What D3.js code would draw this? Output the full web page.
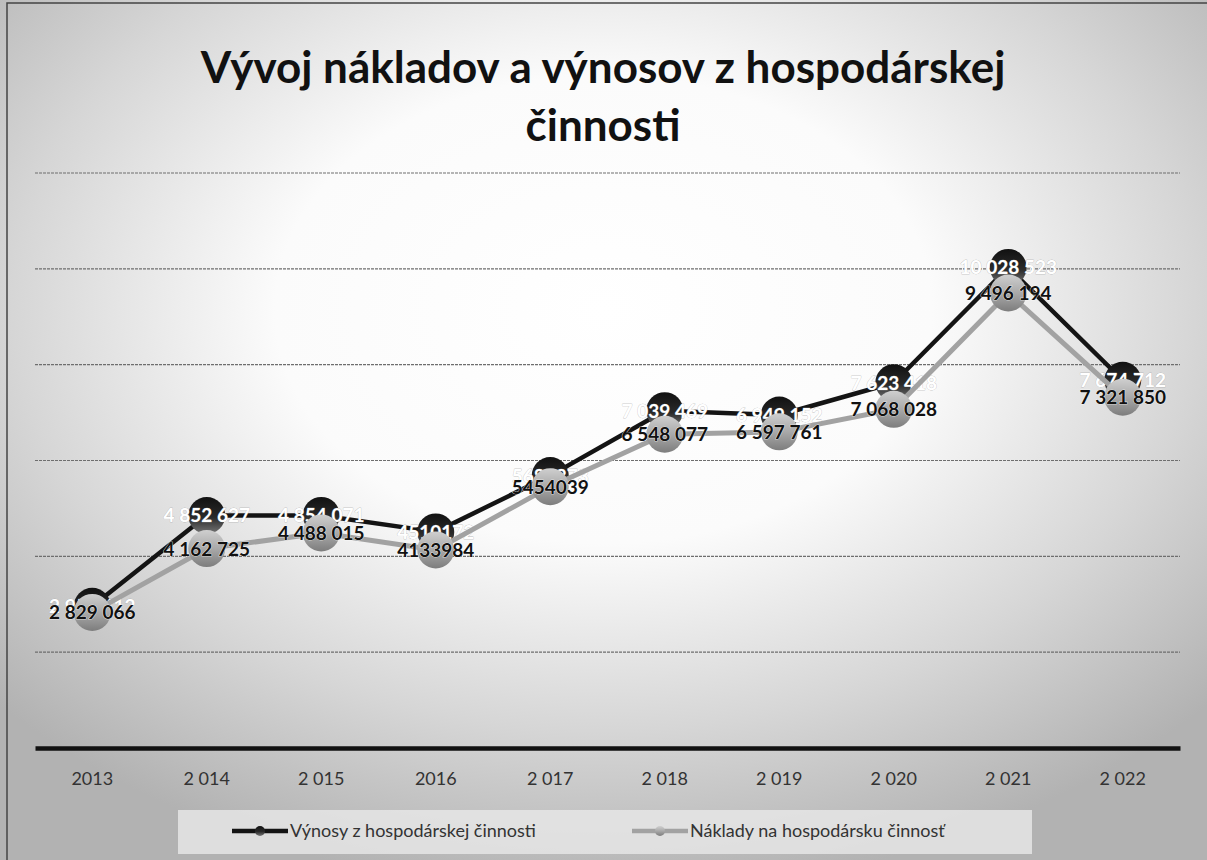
<!DOCTYPE html>
<html>
<head>
<meta charset="utf-8">
<script src="https://cdn.jsdelivr.net/npm/d3@7"></script>
<style>
  body { margin: 0; background: #fff; }
  svg { display: block; }
</style>
</head>
<body>
<div id="chart"></div>
<script>
// --- data ---
var roky = ["2013", "2 014", "2 015", "2016", "2 017", "2 018", "2 019", "2 020", "2 021", "2 022"];
var vynosy = [2956412, 4852627, 4854071, 4510172, 5684873, 7039469, 6949152, 7623418, 10028523, 7674712];
var naklady = [2829066, 4162725, 4488015, 4133984, 5454039, 6548077, 6597761, 7068028, 9496194, 7321850];
var yTicks = [0, 2000000, 4000000, 6000000, 8000000, 10000000, 12000000];
var plainLabels = [3, 4]; // labels printed without thousand spaces

var W = 1207, H = 860;
var svg = d3.select("#chart").append("svg").attr("width", W).attr("height", H);
var defs = svg.append("defs");

// scanned-page look: white in the middle, grey towards the edges
var bg = defs.append("radialGradient").attr("id", "bg")
  .attr("cx", "50%").attr("cy", "36%").attr("r", "68%");
bg.append("stop").attr("offset", "0%").attr("stop-color", "#ffffff");
bg.append("stop").attr("offset", "40%").attr("stop-color", "#fbfbfb");
bg.append("stop").attr("offset", "72%").attr("stop-color", "#d6d6d6");
bg.append("stop").attr("offset", "100%").attr("stop-color", "#b2b2b2");

var gBlack = defs.append("linearGradient").attr("id", "mBlack").attr("x1", 0).attr("y1", 0).attr("x2", 0).attr("y2", 1);
gBlack.append("stop").attr("offset", "0%").attr("stop-color", "#111");
gBlack.append("stop").attr("offset", "55%").attr("stop-color", "#2a2a2a");
gBlack.append("stop").attr("offset", "100%").attr("stop-color", "#777");
var gGrey = defs.append("linearGradient").attr("id", "mGrey").attr("x1", 0).attr("y1", 0).attr("x2", 0).attr("y2", 1);
gGrey.append("stop").attr("offset", "0%").attr("stop-color", "#cfcfcf");
gGrey.append("stop").attr("offset", "50%").attr("stop-color", "#a9a9a9");
gGrey.append("stop").attr("offset", "100%").attr("stop-color", "#7d7d7d");

svg.append("rect").attr("x", 0).attr("y", 0).attr("width", W).attr("height", H).attr("fill", "url(#bg)");
svg.append("path").attr("d", "M7," + H + "V3H" + W).attr("fill", "none").attr("stroke", "#444").attr("stroke-width", 1.5);

// title
var title = svg.append("text").attr("x", 603).attr("text-anchor", "middle")
  .attr("font-family", "Lato, 'Open Sans', sans-serif").attr("font-weight", "bold")
  .attr("font-size", 44).attr("fill", "#111");
title.append("tspan").attr("x", 603).attr("y", 83).text("Vývoj nákladov a výnosov z hospodárskej");
title.append("tspan").attr("x", 603).attr("y", 141).text("činnosti");

var x = d3.scaleBand().domain(roky).range([35, 1180]);
var y = d3.scaleLinear().domain([0, 12000000]).range([748, 173]);
var cx = function(d, i) { return x(roky[i]) + x.bandwidth() / 2; };

// gridlines
svg.append("g").selectAll("line").data(yTicks.slice(1)).enter().append("line")
  .attr("x1", 35).attr("x2", 1180)
  .attr("y1", function(d) { return y(d); }).attr("y2", function(d) { return y(d); })
  .attr("stroke", "#6e6e6e").attr("stroke-width", 1.2).attr("stroke-dasharray", "3,1");

// x axis
var xAxis = svg.append("g").attr("transform", "translate(0," + y(0) + ")")
  .call(d3.axisBottom(x).tickSize(0).tickPadding(24));
xAxis.select(".domain").attr("stroke", "#111").attr("stroke-width", 4.5);
xAxis.selectAll("text").attr("font-family", "Lato, sans-serif").attr("font-size", 18).attr("fill", "#333");

var fmtSpace = d3.formatLocale({ decimal: ",", thousands: " ", grouping: [3], currency: ["", ""] }).format(",d");
function lbl(v, i) { return plainLabels.indexOf(i) >= 0 ? String(v) : fmtSpace(v); }

var line = d3.line().x(cx).y(function(d) { return y(d); });

function series(values, color, width, marker, textFill, textStroke, sw) {
  var g = svg.append("g");
  g.append("path").datum(values).attr("d", line).attr("fill", "none")
    .attr("stroke", color).attr("stroke-width", width).attr("stroke-linejoin", "round");
  g.selectAll("circle").data(values).enter().append("circle")
    .attr("cx", cx).attr("cy", function(d) { return y(d); }).attr("r", 18.5)
    .attr("fill", "url(#" + marker + ")");
  g.selectAll("text").data(values).enter().append("text")
    .attr("x", cx).attr("y", function(d) { return y(d) + 7; })
    .attr("text-anchor", "middle")
    .attr("font-family", "Lato, sans-serif").attr("font-weight", "bold").attr("font-size", 19)
    .attr("fill", textFill).attr("stroke", textStroke).attr("stroke-width", sw)
    .attr("paint-order", "stroke")
    .text(lbl);
}

series(vynosy, "#141414", 4.5, "mBlack", "#fff", "#9a9a9a", 0.4);
series(naklady, "#a2a2a2", 5, "mGrey", "#111", "#fff", 0.7);

// legend
var lg = svg.append("g");
lg.append("rect").attr("x", 178).attr("y", 810).attr("width", 854).attr("height", 44).attr("fill", "#e9e9e9").attr("opacity", 0.8);
var items = [
  { name: "Výnosy z hospodárskej činnosti", color: "#141414", marker: "mBlack", x: 232 },
  { name: "Náklady na hospodársku činnosť", color: "#a2a2a2", marker: "mGrey", x: 632 }
];
items.forEach(function(it) {
  lg.append("line").attr("x1", it.x).attr("x2", it.x + 56).attr("y1", 831).attr("y2", 831)
    .attr("stroke", it.color).attr("stroke-width", 4.5);
  lg.append("circle").attr("cx", it.x + 28).attr("cy", 831).attr("r", 5).attr("fill", "url(#" + it.marker + ")");
  lg.append("text").attr("x", it.x + 58).attr("y", 837).attr("font-family", "Lato, sans-serif")
    .attr("font-size", 18).attr("fill", "#333").text(it.name);
});
</script>
</body>
</html>
